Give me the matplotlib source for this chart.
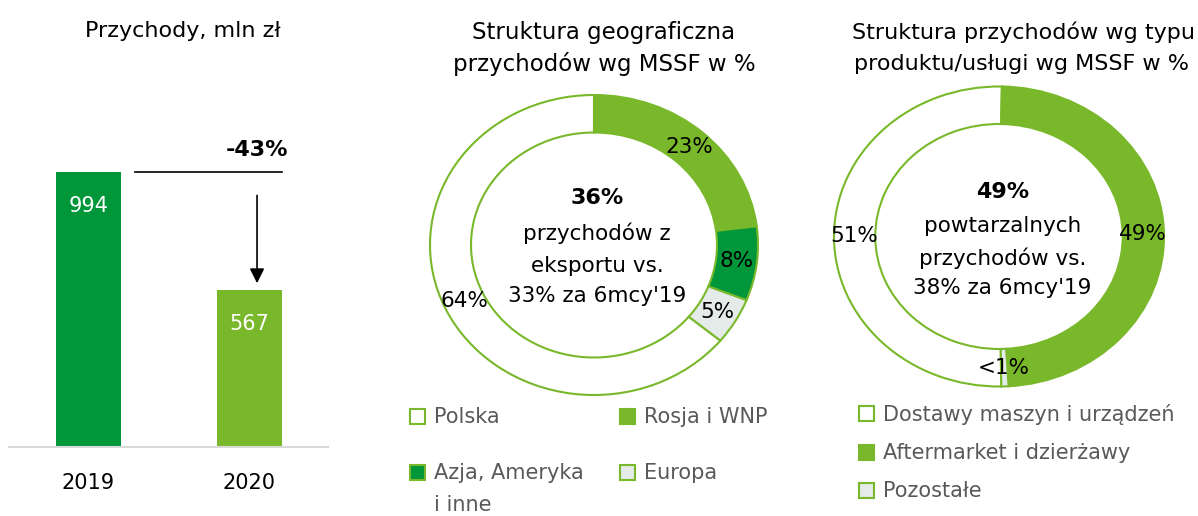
import matplotlib
matplotlib.use("Agg")
import matplotlib.pyplot as plt
from matplotlib.patches import Rectangle
import numpy as np

# data
years = ["2019", "2020"]
revenue = [994, 567]

geo_labels = ["Polska", "Rosja i WNP", "Azja, Ameryka\ni inne", "Europa"]
geo_share = [64, 23, 8, 5]
geo_text = ["64%", "23%", "8%", "5%"]

type_labels = ["Dostawy maszyn i urządzeń", "Aftermarket i dzierżawy", "Pozostałe"]
type_share = [50.5, 48.8, 0.7]
type_text = ["51%", "49%", "<1%"]

DARK = "#00963A"
LIGHT = "#78B82A"
GREY = "#E4EBE8"
geo_colors = ["white", LIGHT, DARK, GREY]
type_colors = ["white", LIGHT, GREY]

W, H = 1198, 516
fig = plt.figure(figsize=(W / 100, H / 100), dpi=100)
plt.rcParams['font.family'] = ['DejaVu Sans']


def px(x, y):
    return x / W, 1 - y / H


def rect(left, top, right, bottom):
    return [left / W, 1 - bottom / H, (right - left) / W, (bottom - top) / H]


# ---- bar chart ----
ax = fig.add_axes(rect(9, 60, 328, 447))
xs = range(len(years))
ax.bar(xs, revenue, width=0.405, color=[DARK, LIGHT])
ax.set_xlim(-0.495, 1.492)
ax.set_ylim(0, revenue[0] * 387 / 275)
for s in ["top", "left", "right"]:
    ax.spines[s].set_visible(False)
ax.spines["bottom"].set_color("#D9D9D9")
ax.spines["bottom"].set_linewidth(1.5)
ax.set_yticks([])
ax.set_xticks(list(xs))
ax.set_xticklabels(years, fontsize=15)
ax.tick_params(axis="x", length=0, pad=19)
for x, v in zip(xs, revenue):
    ax.annotate(str(v), (x, v), xytext=(0, -17), textcoords="offset points",
                ha="center", va="top", color="white", fontsize=15)

change = (revenue[1] - revenue[0]) / revenue[0] * 100
ax.plot([0.29, 1.2025], [revenue[0], revenue[0]], color="black", lw=1.2)
ax.annotate("", xy=(1.05, revenue[1] + 15), xytext=(1.05, revenue[0] * 0.925),
            arrowprops=dict(arrowstyle="-|>", color="black", lw=1.2, mutation_scale=22))
ax.annotate(f"{change:.0f}%", (1.05, revenue[0]), xytext=(0, 16), textcoords="offset points",
            ha="center", va="center", fontsize=16, fontweight="bold")
fig.text(*px(183, 31), "Przychody, mln zł", ha="center", va="center", fontsize=16)


# ---- donuts ----
def donut(axrect, rx, ry, values, colors, texts, start, center_lines, ylist):
    a = fig.add_axes(axrect)
    wedges, _ = a.pie(values, colors=colors, startangle=start, counterclock=False,
                      wedgeprops=dict(width=0.25, edgecolor=LIGHT, linewidth=1.5))
    a.set_aspect("auto")
    a.set_xlim(-rx, rx)
    a.set_ylim(-ry, ry)
    for w, t in zip(wedges, texts):
        ang = np.deg2rad((w.theta1 + w.theta2) / 2)
        a.text(0.875 * np.cos(ang), 0.875 * np.sin(ang), t, ha="center", va="center", fontsize=15.5)
    for i, (line, y) in enumerate(zip(center_lines, ylist)):
        a.text(0.02, y, line, ha="center", va="center", fontsize=16 if i == 0 else 15.5,
               fontweight="bold" if i == 0 else "normal")
    return a


donut(rect(394, 75, 794, 415), 200 / 164, 170 / 150, geo_share, geo_colors, geo_text,
      90 + geo_share[0] * 3.6,
      ["36%", "przychodów z", "eksportu vs.", "33% za 6mcy'19"], [0.313, 0.08, -0.14, -0.34])
donut(rect(814, 71.5, 1184, 401.5), 185 / 165, 165 / 150, type_share, type_colors, type_text,
      89 + type_share[0] * 3.6,
      ["49%", "powtarzalnych", "przychodów vs.", "38% za 6mcy'19"], [0.297, 0.07, -0.143, -0.343])

fig.text(*px(604, 32), "Struktura geograficzna", ha="center", va="center", fontsize=16.5)
fig.text(*px(604, 64), "przychodów wg MSSF w %", ha="center", va="center", fontsize=16.5)
fig.text(*px(1023, 32), "Struktura przychodów wg typu", ha="center", va="center", fontsize=16)
fig.text(*px(1022, 64), "produktu/usługi wg MSSF w %", ha="center", va="center", fontsize=16)


# ---- legends ----
def legend_item(x, y, label, color):
    fig.add_artist(Rectangle(px(x, y + 7.5), 15 / W, 15 / H, transform=fig.transFigure,
                             facecolor=color, edgecolor=LIGHT, lw=1.5))
    fig.text(*px(x + 24, y - 9), label, ha="left", va="top", fontsize=15,
             color="#595959", linespacing=1.75)


geo_pos = [(410, 416), (620, 416), (410, 472), (620, 472)]
for (x, y), lab, c in zip(geo_pos, geo_labels, geo_colors):
    legend_item(x, y, lab, c)
type_pos = [(859, 413), (859, 452), (859, 490)]
for (x, y), lab, c in zip(type_pos, type_labels, type_colors):
    legend_item(x, y, lab, c)

fig.savefig("out.png", dpi=100)
